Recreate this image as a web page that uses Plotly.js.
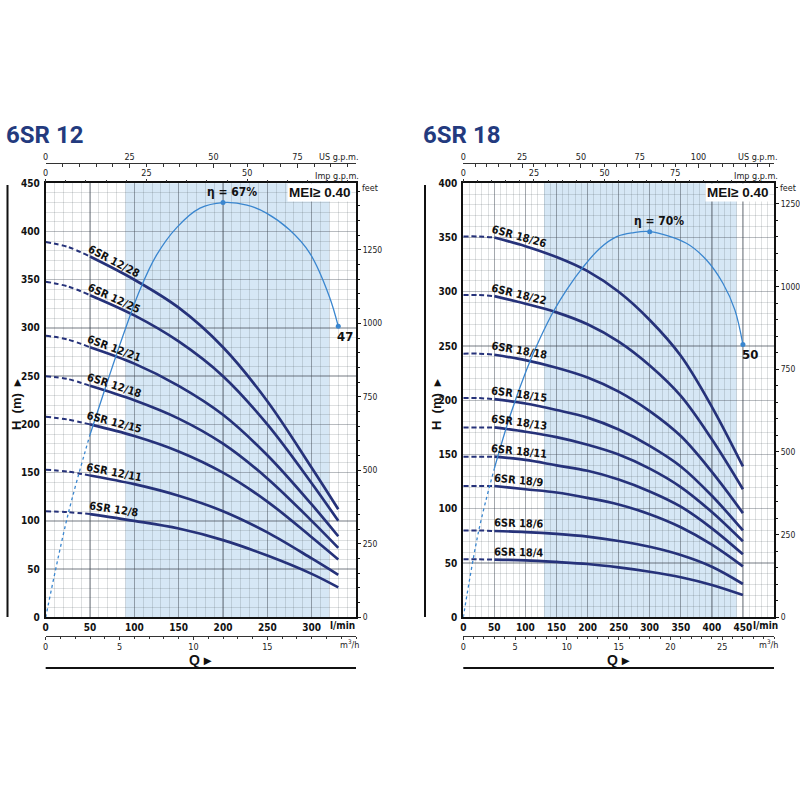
<!DOCTYPE html>
<html>
<head>
<meta charset="utf-8">
<script src="https://cdn.plot.ly/plotly-3.0.1.min.js"></script>
<style>
body { margin: 0; background: #fff; }
#chart { width: 800px; height: 800px; }
</style>
</head>
<body>
<div id="chart"></div>
<script>
// ---- 6SR 12 : Q in l/min, H in m ----
var q12 = [0, 25, 50, 100, 150, 200, 250, 300, 330];
var h12_28 = [389, 384, 374, 350, 321, 280, 224, 155, 112];
var h12_25 = [348, 343, 334, 313, 286, 250, 200, 139, 100];
var h12_21 = [292, 288, 280, 263, 240, 210, 168, 117, 84];
var h12_18 = [250, 247, 240, 225, 206, 180, 144, 100, 72];
var h12_15 = [208, 205, 200, 188, 172, 150, 120, 83, 60];
var h12_11 = [153, 151, 147, 138, 126, 110, 88, 61, 44];
var h12_8  = [110, 109, 107, 100, 92, 80, 64, 45, 31];
var names12 = ["6SR 12/28", "6SR 12/25", "6SR 12/21", "6SR 12/18", "6SR 12/15", "6SR 12/11", "6SR 12/8"];
var effQ12 = [0, 25, 50, 69, 86, 106, 125, 148, 174, 200, 227, 249, 275, 298, 320, 330];
var eff12  = [0, 16.5, 29.5, 37.8, 45, 52.8, 58.5, 63, 66.1, 67, 66.6, 65.3, 62.6, 58.8, 51.8, 47];

// ---- 6SR 18 ----
var q18 = [0, 25, 50, 100, 150, 200, 250, 300, 350, 400, 450];
var h18_26 = [351, 351, 350, 342, 332, 319, 300, 274, 241, 194, 139];
var h18_22 = [297, 297, 296, 289, 281, 270, 254, 232, 204, 164, 118];
var h18_18 = [243, 243, 242, 237, 230, 221, 208, 190, 167, 134, 96];
var h18_15 = [202, 202, 201, 197, 191, 184, 173, 158, 139, 112, 80];
var h18_13 = [175, 175, 175, 171, 166, 159, 150, 137, 120, 97, 70];
var h18_11 = [148, 148, 148, 145, 140, 135, 127, 116, 102, 82, 58];
var h18_9  = [121, 121, 121, 118, 115, 110, 104, 95, 83, 67, 47];
var h18_6  = [80, 80, 79.5, 78.5, 76.8, 74.3, 70.3, 65, 57.4, 46.6, 30.7];
var h18_4  = [53.4, 53.4, 53.2, 52.5, 51, 49.1, 46, 42, 36.9, 29.8, 20.5];
var names18 = ["6SR 18/26", "6SR 18/22", "6SR 18/18", "6SR 18/15", "6SR 18/13", "6SR 18/11", "6SR 18/9", "6SR 18/6", "6SR 18/4"];
var effQ18 = [0, 25, 50, 75, 102, 123, 145, 166, 193, 220, 247, 273, 300, 359, 391, 418, 437, 450];
var eff18  = [0, 15.8, 27, 36.5, 45, 50.5, 55.5, 59.4, 63.6, 67, 69.1, 69.8, 70, 67.9, 64.9, 60.6, 55.8, 49.5];

// work ranges (shaded), l/min
var band12 = [90, 320];
var band18 = [130, 440];

var FONT = "Liberation Sans Narrow, DejaVu Sans Condensed, Arial Narrow, sans-serif";
var NAVY = "#26327a";
var EFF = "#3a86cf";
var YDOM = [0.2284, 0.7709];

var traces = [];
var annotations = [];
var shapes = [];

// overlay axes are only drawn when some trace sits on them
function holder(xa, ya) {
    return {x: [0], y: [0], xaxis: xa, yaxis: ya, mode: "none", hoverinfo: "skip"};
}

function addChart(c) {
    var pxPerQ = (c.xdom[1] - c.xdom[0]) * 800 / c.xmax;
    var pyPerH = (YDOM[1] - YDOM[0]) * 800 / c.ymax;
    var i50 = c.q.indexOf(50), i100 = c.q.indexOf(100);

    for (var k = 0; k < c.curves.length; k++) {
        var h = c.curves[k];
        // dashed part below 50 l/min
        traces.push({
            x: c.q.slice(0, i50 + 1), y: h.slice(0, i50 + 1),
            xaxis: c.xa, yaxis: c.ya, mode: "lines", hoverinfo: "skip",
            line: {color: NAVY, width: 2, dash: "5px,3px", shape: "spline"}
        });
        traces.push({
            x: c.q.slice(i50), y: h.slice(i50),
            xaxis: c.xa, yaxis: c.ya, mode: "lines", name: c.names[k],
            line: {color: NAVY, width: 2.7, shape: "spline", smoothing: 1}
        });
        var t = (c.labelQ - 50) / 50;
        var hl = h[i50] + (h[i100] - h[i50]) * t;
        var ang = Math.atan((h[i50] - h[i100]) * pyPerH / (50 * pxPerQ)) * 180 / Math.PI;
        annotations.push({
            xref: c.xa, yref: c.ya, x: c.labelQ, y: hl, yshift: 8,
            text: c.names[k], textangle: ang, showarrow: false,
            xanchor: "center", yanchor: "middle",
            font: {family: FONT, size: 11, weight: 700, color: "#111"}
        });
    }

    // efficiency curve
    var e50 = c.effQ.indexOf(50);
    traces.push({
        x: c.effQ.slice(0, e50 + 1), y: c.eff.slice(0, e50 + 1),
        xaxis: c.xa, yaxis: c.ye, mode: "lines", hoverinfo: "skip",
        line: {color: EFF, width: 1.3, dash: "dot", shape: "spline"}
    });
    traces.push({
        x: c.effQ.slice(e50), y: c.eff.slice(e50),
        xaxis: c.xa, yaxis: c.ye, mode: "lines", name: "η",
        line: {color: EFF, width: 1.3, shape: "spline", smoothing: 1}
    });
    var pk = c.eff.indexOf(Math.max.apply(null, c.eff));
    var last = c.eff.length - 1;
    traces.push({
        x: [c.effQ[pk], c.effQ[last]], y: [c.eff[pk], c.eff[last]],
        xaxis: c.xa, yaxis: c.ye, mode: "markers",
        marker: {color: EFF, size: 5}
    });
    annotations.push({
        xref: c.xa, yref: c.ye, x: c.effQ[pk], y: c.eff[pk], yshift: 11, xshift: 9,
        text: "η = " + c.eff[pk] + "%", showarrow: false,
        font: {family: FONT, size: 12, weight: 700, color: "#111"}
    });
    annotations.push({
        xref: c.xa, yref: c.ye, x: c.effQ[last], y: c.eff[last], yshift: -10, xshift: 7,
        text: String(Math.round(c.eff[last])), showarrow: false,
        font: {family: FONT, size: 13, weight: 700, color: "#111"}
    });

    // helper traces so the extra scales get drawn
    traces.push(holder(c.us, c.ya), holder(c.imp, c.ya), holder(c.m3, c.ya), holder(c.xa, c.feet));

    // shaded range
    shapes.push({
        type: "rect", xref: c.xa, yref: c.ya + " domain",
        x0: c.band[0], x1: c.band[1], y0: 0, y1: 1,
        fillcolor: "#d6e7f5", line: {width: 0}, layer: "below"
    });

    // decoration lines
    shapes.push({type: "line", xref: "paper", yref: "paper",
        x0: c.vline, x1: c.vline, y0: 1 - 185 / 800, y1: 1 - 617 / 800,
        line: {color: "#111", width: 2}});
    shapes.push({type: "line", xref: "paper", yref: "paper",
        x0: c.xdom[0], x1: c.xdom[1], y0: 1 - 668 / 800, y1: 1 - 668 / 800,
        line: {color: "#111", width: 2}});

    var r = c.right;
    var small = {family: FONT, size: 9, color: "#222"};
    annotations.push(
        {xref: "paper", yref: "paper", x: c.titleX, y: 1 - 135 / 800, xanchor: "left", yanchor: "middle",
         text: c.title, showarrow: false, font: {family: "Roboto, Liberation Sans, sans-serif", size: 24, weight: 700, color: "#233a7e"}},
        {xref: "paper", yref: "paper", x: c.meiX, y: 1 - 192.5 / 800, xanchor: "right", yanchor: "middle",
         text: "MEI≥ 0.40", showarrow: false, bgcolor: "#fff", borderpad: 1,
         font: {family: "Liberation Sans, Arial, sans-serif", size: 13.5, weight: 700, color: "#111"}},
        {xref: "paper", yref: "paper", x: r, y: 1 - 157 / 800, xanchor: "right", yanchor: "middle",
         text: "US g.p.m.", showarrow: false, font: small},
        {xref: "paper", yref: "paper", x: r, y: 1 - 176 / 800, xanchor: "right", yanchor: "middle",
         text: "Imp g.p.m.", showarrow: false, font: small},
        {xref: "paper", yref: "paper", x: c.feetX, y: 1 - 188 / 800, xanchor: "left", yanchor: "middle",
         text: "feet", showarrow: false, font: small},
        {xref: "paper", yref: "paper", x: c.lminX, y: 1 - 625 / 800, xanchor: "right", yanchor: "middle",
         text: "l/min", showarrow: false, font: {family: FONT, size: 10, weight: 700, color: "#111"}},
        {xref: "paper", yref: "paper", x: r, y: 1 - 644 / 800, xanchor: "right", yanchor: "middle",
         text: "m<sup>3</sup>/h", showarrow: false, font: small},
        {xref: "paper", yref: "paper", x: (c.xdom[0] + c.xdom[1]) / 2, y: 1 - 660 / 800, xanchor: "center", yanchor: "middle",
         text: "Q ▸", showarrow: false, font: {family: "Liberation Sans, Arial, sans-serif", size: 14, weight: 700, color: "#111"}},
        {xref: "paper", yref: "paper", x: c.hX, y: 1 - 404 / 800, xanchor: "center", yanchor: "middle",
         text: "H  (m)  ▸", textangle: -90, showarrow: false,
         font: {family: "Liberation Sans, Arial, sans-serif", size: 13, weight: 700, color: "#111"}}
    );
}

addChart({
    xa: "x", ya: "y", ye: "y5", us: "x3", imp: "x5", m3: "x7", feet: "y3",
    q: q12, names: names12,
    curves: [h12_28, h12_25, h12_21, h12_18, h12_15, h12_11, h12_8],
    effQ: effQ12, eff: eff12, band: band12,
    xdom: [0.0571, 0.445], xmax: 350, ymax: 450, labelQ: 77,
    vline: 7.5 / 800, title: "6SR 12", titleX: 4 / 800, meiX: 352 / 800,
    right: 361 / 800, feetX: 360 / 800, lminX: 357 / 800, hX: 16 / 800
});
addChart({
    xa: "x2", ya: "y2", ye: "y6", us: "x4", imp: "x6", m3: "x8", feet: "y4",
    q: q18, names: names18,
    curves: [h18_26, h18_22, h18_18, h18_15, h18_13, h18_11, h18_9, h18_6, h18_4],
    effQ: effQ18, eff: eff18, band: band18,
    xdom: [0.5791, 0.9675], xmax: 500, ymax: 400, labelQ: 89,
    vline: 425 / 800, title: "6SR 18", titleX: 421 / 800, meiX: 770 / 800,
    right: 780 / 800, feetX: 778 / 800, lminX: 780 / 800, hX: 436 / 800
});

var tickBold = {family: FONT, size: 10, weight: 700, color: "#111"};
var tickSmall = {family: FONT, size: 9, color: "#222"};
var gridMajor = "rgba(60,70,80,0.36)";
var gridMinor = "rgba(60,70,80,0.21)";

function mainX(dom, ya, max, vals) {
    return {
        domain: dom, anchor: ya, range: [0, max], tickvals: vals,
        showgrid: true, gridcolor: gridMajor, gridwidth: 1.4,
        minor: {dtick: 10, showgrid: true, gridcolor: gridMinor, gridwidth: 0.8},
        showline: true, mirror: true, linecolor: "#111", linewidth: 2,
        ticks: "", zeroline: false, tickfont: tickBold
    };
}
function mainY(xa, max) {
    return {
        domain: YDOM, anchor: xa, range: [0, max], dtick: 50, tick0: 0,
        showgrid: true, gridcolor: gridMajor, gridwidth: 1.4,
        minor: {dtick: 10, showgrid: true, gridcolor: gridMinor, gridwidth: 0.8},
        showline: true, mirror: true, linecolor: "#111", linewidth: 2,
        ticks: "", zeroline: false, tickfont: tickBold, ticklabelstandoff: 2
    };
}
function feetY(over, xa, max) {
    return {
        overlaying: over, anchor: xa, side: "right", range: [0, max * 3.28084],
        dtick: 250, ticks: "outside", ticklen: 4, tickcolor: "#111",
        minor: {dtick: 50, ticks: "outside", ticklen: 3, tickcolor: "#111"},
        showgrid: false, zeroline: false, showline: false,
        tickfont: {family: FONT, size: 8.5, color: "#222"}
    };
}
function usX(over, max, vals) {
    return {
        overlaying: over, anchor: "free", position: 0.7959, side: "top",
        range: [0, max / 3.7854], tickvals: vals, ticks: "inside", ticklen: 4, tickcolor: "#333",
        minor: {dtick: 5, ticks: "inside", ticklen: 3, tickcolor: "#333"},
        showline: true, linecolor: "#333", linewidth: 1, showgrid: false, zeroline: false,
        tickfont: tickSmall
    };
}
function impX(over, ya, max, vals) {
    return {
        overlaying: over, anchor: ya, side: "top",
        range: [0, max / 4.54609], tickvals: vals, ticks: "outside", ticklen: 3, tickcolor: "#333",
        minor: {dtick: 5, ticks: "outside", ticklen: 2, tickcolor: "#333"},
        showline: false, showgrid: false, zeroline: false, tickfont: tickSmall
    };
}
function m3X(over, max, vals) {
    return {
        overlaying: over, anchor: "free", position: 0.2054, side: "bottom",
        range: [0, max * 0.06], tickvals: vals, ticks: "outside", ticklen: 3, tickcolor: "#333",
        minor: {dtick: 1, ticks: "outside", ticklen: 2, tickcolor: "#333"},
        showline: true, linecolor: "#333", linewidth: 1, showgrid: false, zeroline: false,
        tickfont: tickSmall
    };
}

var layout = {
    width: 800, height: 800,
    margin: {l: 0, r: 0, t: 0, b: 0},
    paper_bgcolor: "#fff", plot_bgcolor: "#fff",
    showlegend: false,
    xaxis: mainX([0.0571, 0.445], "y", 350, [0, 50, 100, 150, 200, 250, 300]),
    yaxis: mainY("x", 450),
    xaxis2: mainX([0.5791, 0.9675], "y2", 500, [0, 50, 100, 150, 200, 250, 300, 350, 400, 450]),
    yaxis2: mainY("x2", 400),
    yaxis3: feetY("y", "x", 450),
    yaxis4: feetY("y2", "x2", 400),
    yaxis5: {overlaying: "y", anchor: "x", range: [0, 450 * 67 / 430], visible: false},
    yaxis6: {overlaying: "y2", anchor: "x2", range: [0, 400 * 70 / 355.4], visible: false},
    xaxis3: usX("x", 350, [0, 25, 50, 75]),
    xaxis4: usX("x2", 500, [0, 25, 50, 75, 100]),
    xaxis5: impX("x", "y", 350, [0, 25, 50]),
    xaxis6: impX("x2", "y2", 500, [0, 25, 50, 75]),
    xaxis7: m3X("x", 350, [0, 5, 10, 15]),
    xaxis8: m3X("x2", 500, [0, 5, 10, 15, 20, 25]),
    shapes: shapes,
    annotations: annotations
};

Plotly.newPlot("chart", traces, layout, {staticPlot: true});
</script>
</body>
</html>
